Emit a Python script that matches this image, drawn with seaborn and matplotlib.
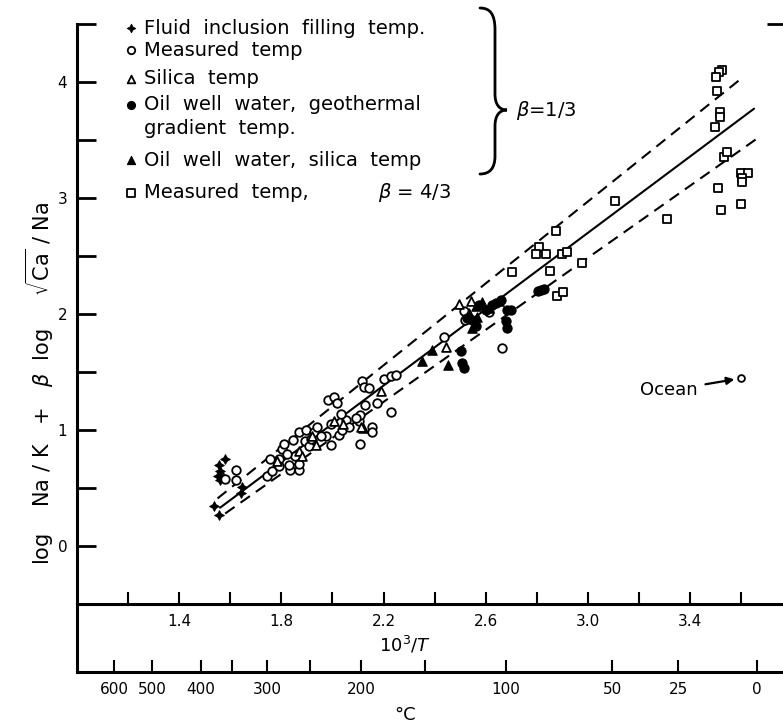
import matplotlib
matplotlib.use("Agg")
import matplotlib.pyplot as plt
import seaborn as sns
from matplotlib.path import Path
from matplotlib.patches import PathPatch
from matplotlib.transforms import Affine2D
from matplotlib.ticker import FixedLocator, FixedFormatter

# ---- data: x = 10^3/T (K), y = log Na/K + beta log sqrt(Ca)/Na ----
fluid_x = [1.580, 1.557, 1.560, 1.553, 1.572, 1.560, 1.537, 1.557, 1.647, 1.643]
fluid_y = [0.753, 0.701, 0.649, 0.606, 0.597, 0.571, 0.346, 0.268, 0.511, 0.459]

measured_x = [1.623, 1.580, 1.623, 1.744, 1.764, 1.756, 1.791, 1.791, 1.803, 1.811,
              1.846, 1.834, 1.870, 1.870, 1.831, 1.870, 1.897, 1.893, 1.909, 1.928,
              1.940, 1.995, 1.995, 1.975, 2.026, 2.038, 2.054, 2.034, 1.983, 2.007,
              2.018, 2.108, 2.105, 2.108, 2.128, 2.175, 2.155, 2.155, 2.230, 2.116,
              2.124, 2.144, 2.202, 2.230, 2.249, 2.437, 2.664, 2.515, 2.613, 2.519,
              1.854, 1.823, 1.917, 1.956, 2.065, 2.093]
measured_y = [0.658, 0.580, 0.571, 0.606, 0.649, 0.753, 0.753, 0.693, 0.840, 0.883,
              0.918, 0.658, 0.658, 0.710, 0.701, 0.987, 1.004, 0.909, 0.866, 0.987,
              1.030, 0.874, 1.056, 0.944, 0.961, 1.004, 1.082, 1.134, 1.255, 1.281,
              1.229, 0.883, 1.074, 1.126, 1.212, 1.229, 1.030, 0.987, 1.152, 1.420,
              1.368, 1.359, 1.437, 1.463, 1.472, 1.801, 1.706, 2.026, 2.017, 1.948,
              0.779, 0.797, 0.926, 0.952, 1.030, 1.100]

silica_x = [1.921, 1.936, 2.007, 2.042, 2.120, 2.191, 1.870, 1.881, 2.445, 2.543,
            2.112, 2.496, 1.784]
silica_y = [0.952, 0.874, 1.074, 1.056, 1.013, 1.333, 0.823, 0.779, 1.714, 2.113,
            1.030, 2.087, 0.736]

oil_geo_x = [2.504, 2.508, 2.515, 2.680, 2.684, 2.699, 2.574, 2.602, 2.625, 2.660,
             2.547, 2.562, 2.805, 2.817, 2.829, 2.527, 2.641, 2.684]
oil_geo_y = [1.680, 1.576, 1.532, 1.939, 1.879, 2.035, 2.078, 2.035, 2.078, 2.121,
             1.948, 1.896, 2.199, 2.208, 2.216, 1.965, 2.095, 2.035]

oil_silica_x = [2.351, 2.390, 2.453, 2.566, 2.562, 2.652, 2.535, 2.586, 2.613, 2.547]
oil_silica_y = [1.593, 1.688, 1.558, 1.974, 2.069, 2.113, 2.009, 2.104, 2.052, 1.879]

beta43_x = [2.703, 2.852, 2.879, 2.903, 2.876, 2.809, 2.797, 2.836, 2.899, 2.919,
            2.977, 3.106, 3.310, 3.525, 3.514, 3.502, 3.506, 3.517, 3.517, 3.497,
            3.533, 3.545, 3.600, 3.627, 3.604, 3.604, 3.510, 3.521, 3.600]
beta43_y = [2.364, 2.372, 2.156, 2.190, 2.719, 2.580, 2.519, 2.519, 2.519, 2.537,
            2.442, 2.978, 2.823, 4.104, 4.087, 4.043, 3.922, 3.740, 3.697, 3.610,
            3.351, 3.394, 3.212, 3.212, 3.169, 3.134, 3.082, 2.900, 2.952]

ocean_x = [3.600]
ocean_y = [1.446]

# fitted relation and its bounding lines
fit_x = [1.56, 3.65]
fit_y = [0.33, 3.77]
upper_x = [1.55, 3.60]
upper_y = [0.41, 4.03]
lower_x = [1.58, 3.66]
lower_y = [0.28, 3.51]

# ---- axes scales ----
y_ticks = [0, 0.5, 1, 1.5, 2, 2.5, 3, 3.5, 4, 4.5]
y_labels = ["0", "", "1", "", "2", "", "3", "", "4", ""]
invt_ticks = [1.2, 1.4, 1.6, 1.8, 2.0, 2.2, 2.4, 2.6, 2.8, 3.0, 3.2, 3.4, 3.6]
invt_labels = ["", "1.4", "", "1.8", "", "2.2", "", "2.6", "", "3.0", "", "3.4", ""]
celsius_ticks = [600, 500, 400, 350, 300, 250, 200, 150, 100, 50, 25, 0]
celsius_labels = ["600", "500", "400", "", "300", "", "200", "", "100", "50", "25", "0"]

legend_rows = [
    ("fluid", "Fluid  inclusion  filling  temp."),
    ("measured", "Measured  temp"),
    ("silica", "Silica  temp"),
    ("oil_geo", "Oil  well  water,  geothermal"),
    (None, "gradient  temp."),
    ("oil_silica", "Oil  well  water,  silica  temp"),
    ("beta43", "Measured  temp,"),
]

# ---- style ----
sns.set_theme(style="white")
plt.rcParams["font.family"] = ["DejaVu Sans"]
plt.rcParams["mathtext.fontset"] = "dejavusans"
for key in ["text.color", "axes.labelcolor", "xtick.color", "ytick.color", "axes.edgecolor"]:
    plt.rcParams[key] = "black"

INK = "black"
styles = {
    "fluid": dict(marker=(4, 1, 0), s=50, color=INK, edgecolor=INK, linewidth=0.6),
    "measured": dict(marker="o", s=38, color="white", edgecolor=INK, linewidth=1.3),
    "silica": dict(marker="^", s=40, color="white", edgecolor=INK, linewidth=1.3),
    "oil_geo": dict(marker="o", s=44, color=INK, edgecolor=INK, linewidth=0.8),
    "oil_silica": dict(marker="^", s=46, color=INK, edgecolor=INK, linewidth=0.8),
    "beta43": dict(marker="s", s=36, color="white", edgecolor=INK, linewidth=1.3),
}
series = {
    "fluid": (fluid_x, fluid_y),
    "measured": (measured_x, measured_y),
    "silica": (silica_x, silica_y),
    "oil_geo": (oil_geo_x, oil_geo_y),
    "oil_silica": (oil_silica_x, oil_silica_y),
    "beta43": (beta43_x, beta43_y),
}

W, H = 783, 728
fig = plt.figure(figsize=(W / 100, H / 100), dpi=100)
fig.patch.set_facecolor("white")
# pixel transform (origin top-left) for annotations placed on the page
px = Affine2D().scale(1 / W, -1 / H).translate(0, 1) + fig.transFigure

ax = fig.add_axes([77 / W, 1 - 604 / H, 709 / W, 580 / H])
ax_c = fig.add_axes([77 / W, 1 - 672 / H, 709 / W, 68 / H])
ax_c.patch.set_alpha(0)

# lines
sns.lineplot(x=fit_x, y=fit_y, ax=ax, color=INK, linewidth=1.5, zorder=2)
sns.lineplot(x=upper_x, y=upper_y, ax=ax, color=INK, linewidth=1.5,
             linestyle=(0, (5.5, 3.5)), zorder=2)
sns.lineplot(x=lower_x, y=lower_y, ax=ax, color=INK, linewidth=1.5,
             linestyle=(0, (5.5, 3.5)), zorder=2)

# points
for name, (xs, ys) in series.items():
    sns.scatterplot(x=xs, y=ys, ax=ax, legend=False, zorder=3, **styles[name])
sns.scatterplot(x=ocean_x, y=ocean_y, ax=ax, legend=False, zorder=3,
                marker="o", s=24, color="white", edgecolor=INK, linewidth=1.3)
ax.annotate("Ocean", xy=(ocean_x[0], ocean_y[0]), xytext=(3.318, 1.342),
            ha="center", va="center", fontsize=13, color=INK,
            arrowprops=dict(arrowstyle="-|>", color=INK, lw=1.6,
                            shrinkA=3, shrinkB=5, mutation_scale=11))

# main axis frame
ax.set_xlim(1.0, 3.775)
ax.set_ylim(-0.5, 4.5)
for side in ["top", "right"]:
    ax.spines[side].set_visible(False)
for side in ["left", "bottom"]:
    ax.spines[side].set_linewidth(2.2)
    ax.spines[side].set_color(INK)
ax.yaxis.set_major_locator(FixedLocator(y_ticks))
ax.yaxis.set_major_formatter(FixedFormatter(y_labels))
ax.xaxis.set_major_locator(FixedLocator(invt_ticks))
ax.xaxis.set_major_formatter(FixedFormatter(invt_labels))
ax.tick_params(axis="y", left=True, direction="in", length=14, width=2,
               labelsize=11, pad=7, colors=INK)
ax.tick_params(axis="x", bottom=True, direction="in", length=9, width=1.5,
               labelsize=11, pad=7, colors=INK)
ax.set_xlabel("")
ax.set_ylabel("")

# right-hand tick at the top of the frame
ax_r = ax.twinx()
ax_r.set_ylim(ax.get_ylim())
ax_r.yaxis.set_major_locator(FixedLocator([4.5]))
ax_r.tick_params(axis="y", right=True, direction="in", length=14, width=2,
                 labelright=False, colors=INK)
for side in ax_r.spines:
    ax_r.spines[side].set_visible(False)

# temperature (deg C) scale beneath the reciprocal-temperature axis
ax_c.set_xlim(ax.get_xlim())
ax_c.set_ylim(0, 1)
ax_c.xaxis.set_major_locator(FixedLocator([1000.0 / (c + 273.15) for c in celsius_ticks]))
ax_c.xaxis.set_major_formatter(FixedFormatter(celsius_labels))
ax_c.tick_params(axis="x", bottom=True, direction="in", length=9, width=1.5,
                 labelsize=11, pad=7, colors=INK)
ax_c.set_yticks([])
for side in ["top", "right"]:
    ax_c.spines[side].set_visible(False)
for side in ["left", "bottom"]:
    ax_c.spines[side].set_linewidth(2.2)
    ax_c.spines[side].set_color(INK)

# axis titles
fig.text(405, 645, r"10$^{3}$/$T$", transform=px, ha="center", va="center", fontsize=13)
fig.text(405, 715, "°C", transform=px, ha="center", va="center", fontsize=13)
fig.text(40, 383,
         r"log    Na / K   +   $\beta$  log     $\sqrt{\mathrm{Ca}}$ / Na",
         transform=px, rotation=90, ha="center", va="center", fontsize=15)

# key
key_ax = fig.add_axes([0, 0, 1, 1], zorder=5)
key_ax.set_xlim(0, W)
key_ax.set_ylim(H, 0)
key_ax.axis("off")
key_ax.patch.set_alpha(0)
row_y = [28, 50, 79, 105, 128, 160, 193]
for yk, (name, label) in zip(row_y, legend_rows):
    if name is not None:
        st = dict(styles[name])
        st["s"] = st["s"] * 0.75
        key_ax.scatter([131], [yk], zorder=6, **st)
    key_ax.text(144, yk, label, ha="left", va="center", fontsize=14, color=INK)
key_ax.text(378, 193, r"$\beta$ = 4/3", ha="left", va="center", fontsize=14, color=INK)
key_ax.text(516, 110, r"$\beta$=1/3", ha="left", va="center", fontsize=14, color=INK)

# brace grouping the beta = 1/3 entries
M, C, L = Path.MOVETO, Path.CURVE4, Path.LINETO
brace = Path(
    [(480, 8), (490, 8), (495, 14), (495, 30),
     (495, 94),
     (495, 104), (499, 110), (507, 110),
     (499, 110), (495, 116), (495, 126),
     (495, 156),
     (495, 168), (490, 174), (480, 174)],
    [M, C, C, C, L, C, C, C, C, C, C, L, C, C, C])
key_ax.add_patch(PathPatch(brace, fill=False, lw=2.0, color=INK, capstyle="round"))

fig.savefig("out.png", dpi=100, facecolor="white")
